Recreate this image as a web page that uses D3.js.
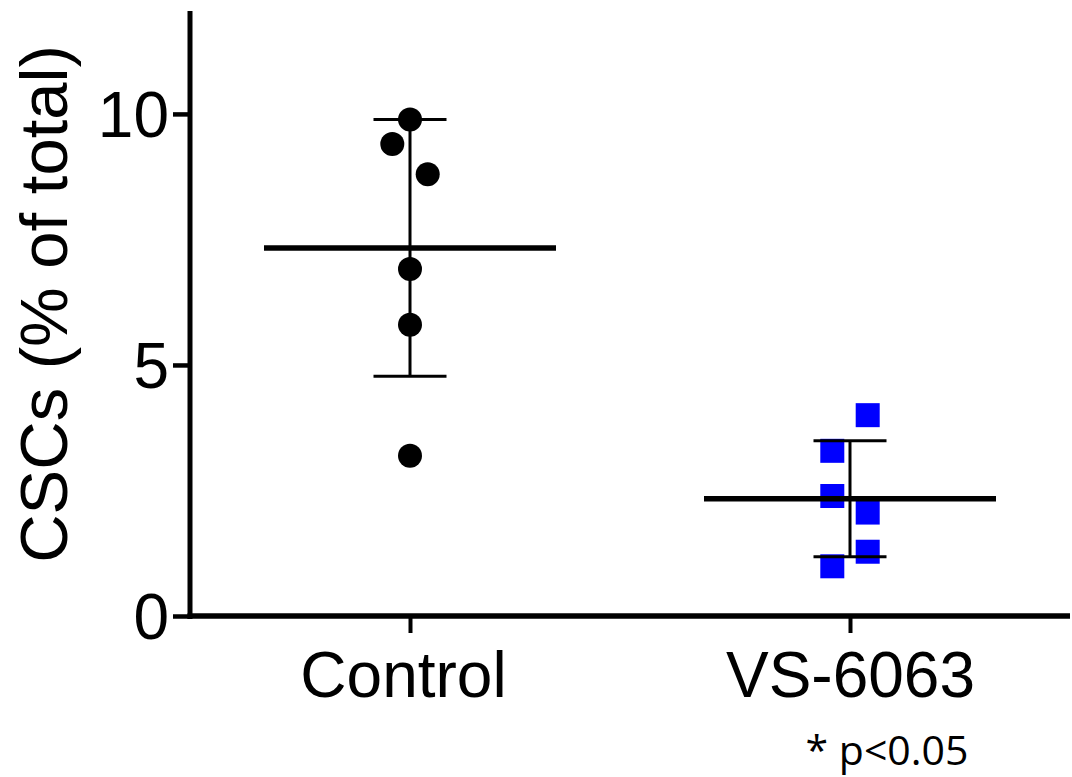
<!DOCTYPE html>
<html>
<head>
<meta charset="utf-8">
<script src="https://cdn.jsdelivr.net/npm/d3@7"></script>
<style>
  body { margin: 0; background: #fff; }
  svg { display: block; }
</style>
</head>
<body>
<svg id="plotSvg" width="1072" height="777"></svg>
<script>
// group names shown under the x axis
var groups = ["Control", "VS-6063"];

// individual measurements, CSCs as % of total
var controlValues = [9.89, 9.40, 8.80, 6.91, 5.80, 3.19];
var vsValues = [4.00, 3.29, 2.39, 2.06, 1.28, 0.99];

// horizontal spread slot of every point (-1 left, 0 centre, 1 right)
var controlSlots = [0, -1, 1, 0, 0, 0];
var vsSlots = [1, -1, -1, 1, 1, -1];

var yTicks = [0, 5, 10];

var series = [
    {name: groups[0], values: controlValues, slots: controlSlots, shape: "circle", color: "#000000"},
    {name: groups[1], values: vsValues, slots: vsSlots, shape: "square", color: "#0000ff"}
];

var svg = d3.select("#plotSvg");
var margin = {top: 13.5, right: 2, bottom: 161, left: 190};
var width = 1072 - margin.left - margin.right;
var height = 777 - margin.top - margin.bottom;

var g = svg.append("g").attr("transform", "translate(" + margin.left + "," + margin.top + ")");

var x = d3.scalePoint().domain(groups).range([0, width]).padding(0.5);
var y = d3.scaleLinear().domain([0, 12]).range([height, 0]);

var font = "'Liberation Sans', Arial, sans-serif";
var spread = 17.7;
var meanHalf = 146;
var capHalf = 36.5;

// points
series.forEach(function (s) {
    var pts = g.append("g").selectAll(".pt")
        .data(s.values.map(function (v, i) { return {v: v, slot: s.slots[i]}; }))
        .enter();
    if (s.shape === "circle") {
        pts.append("circle")
            .attr("cx", function (d) { return x(s.name) + d.slot * spread; })
            .attr("cy", function (d) { return y(d.v); })
            .attr("r", 12)
            .attr("fill", s.color);
    } else {
        pts.append("rect")
            .attr("x", function (d) { return x(s.name) + d.slot * spread - 12; })
            .attr("y", function (d) { return y(d.v) - 12; })
            .attr("width", 24)
            .attr("height", 24)
            .attr("fill", s.color);
    }
});

// mean and SD bars
series.forEach(function (s) {
    var m = d3.mean(s.values);
    var sd = d3.deviation(s.values);
    var cx = x(s.name);
    var eb = g.append("g").attr("stroke", "#000");
    eb.append("line")
        .attr("x1", cx).attr("x2", cx)
        .attr("y1", y(m + sd)).attr("y2", y(m - sd))
        .attr("stroke-width", 3);
    [m + sd, m - sd].forEach(function (v) {
        eb.append("line")
            .attr("x1", cx - capHalf).attr("x2", cx + capHalf)
            .attr("y1", y(v)).attr("y2", y(v))
            .attr("stroke-width", 3);
    });
    eb.append("line")
        .attr("x1", cx - meanHalf).attr("x2", cx + meanHalf)
        .attr("y1", y(m)).attr("y2", y(m))
        .attr("stroke-width", 5.5);
});

// axes
var yAxis = d3.axisLeft(y).tickValues(yTicks).tickSize(17).tickPadding(4).tickSizeOuter(0);
var yg = g.append("g").call(yAxis);
yg.select(".domain").attr("stroke-width", 5).attr("d", "M0," + (height + 3) + "V-2.5");
yg.selectAll(".tick line").attr("stroke-width", 4.5);
yg.selectAll(".tick text")
    .attr("font-family", font)
    .attr("font-size", 64)
    .attr("fill", "#000")
    .attr("dy", "0.358em");

var xAxis = d3.axisBottom(x).tickSize(17).tickPadding(19).tickSizeOuter(0);
var xg = g.append("g").attr("transform", "translate(0," + height + ")").call(xAxis);
xg.select(".domain").attr("stroke-width", 5.5).attr("d", "M-2.5,0H" + width);
xg.selectAll(".tick line").attr("stroke-width", 4);
xg.selectAll(".tick text")
    .attr("font-family", font)
    .attr("font-size", 64)
    .attr("fill", "#000")
    .attr("dx", function (d) { return d === "Control" ? -7 : 0; });

// y axis title
svg.append("text")
    .attr("transform", "translate(67," + 304 + ") rotate(-90)")
    .attr("text-anchor", "middle")
    .attr("font-family", font)
    .attr("font-size", 67)
    .attr("fill", "#000")
    .text("CSCs (% of total)");

// significance note
svg.append("text")
    .attr("x", x(groups[1]) + margin.left + 37)
    .attr("y", 765)
    .attr("text-anchor", "middle")
    .attr("font-family", "'Open Sans', sans-serif")
    .attr("font-size", 41)
    .attr("fill", "#000")
    .text("* p<0.05");
</script>
</body>
</html>
